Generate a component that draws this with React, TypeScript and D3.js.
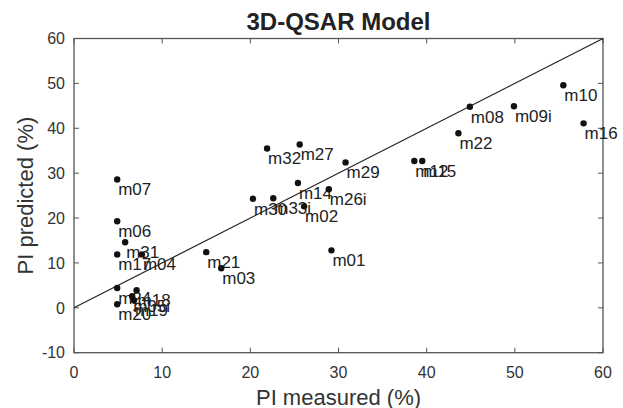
import React from "react";
import * as d3 from "d3";

const labels = ["m07","m06","m31","m17","m04","m21","m03","m24","m18","m05i","m20","m19","m32","m27","m29","m14","m26i","m30","m33i","m02","m01","m08","m09i","m10","m16","m22","m12","m15"];
const measured = [4.9,4.9,5.8,4.9,7.7,15.0,16.7,4.9,7.1,6.6,4.9,6.8,21.9,25.6,30.8,25.4,28.9,20.3,22.6,26.1,29.2,44.9,49.9,55.5,57.8,43.6,38.6,39.5];
const predicted = [28.6,19.3,14.6,11.9,11.9,12.4,8.8,4.4,3.9,2.6,0.8,1.7,35.5,36.4,32.4,27.8,26.4,24.3,24.4,22.6,12.8,44.8,44.9,49.6,41.1,38.9,32.7,32.7];
const xTicks = [0,10,20,30,40,50,60];
const yTicks = [-10,0,10,20,30,40,50,60];
const lineData = [[0,0],[60,60]];

const W = 623, H = 408;
const L = 74, R = 603, T = 38.5, B = 352.7;

export default function App() {
  const x = d3.scaleLinear().domain([0, 60]).range([L, R]);
  const y = d3.scaleLinear().domain([-10, 60]).range([B, T]);
  const line = d3.line<number[]>().x(d => x(d[0])).y(d => y(d[1]));
  const axisColor = "#555";
  const tl = 5;
  return (
    <svg width={W} height={H} style={{ position: "absolute", left: 0, top: 0, background: "#fff" }}
      fontFamily="'Liberation Sans', Arial, Helvetica, sans-serif">
      <rect x={0} y={0} width={W} height={H} fill="#fff" />
      <text x={(L + R) / 2} y={30} textAnchor="middle" fontSize={24} fontWeight="bold" fill="#222">3D-QSAR Model</text>
      {/* box */}
      <rect x={L} y={T} width={R - L} height={B - T} fill="none" stroke={axisColor} strokeWidth={1.3} />
      {xTicks.map(t => (
        <g key={"xt" + t}>
          <line x1={x(t)} x2={x(t)} y1={B} y2={B - tl} stroke={axisColor} />
          <line x1={x(t)} x2={x(t)} y1={T} y2={T + tl} stroke={axisColor} />
          <text x={x(t)} y={B + 25} textAnchor="middle" fontSize={16} fill="#333">{t}</text>
        </g>
      ))}
      {yTicks.map(t => (
        <g key={"yt" + t}>
          <line x1={L} x2={L + tl} y1={y(t)} y2={y(t)} stroke={axisColor} />
          <line x1={R} x2={R - tl} y1={y(t)} y2={y(t)} stroke={axisColor} />
          <text x={L - 9} y={y(t)} dy="0.36em" textAnchor="end" fontSize={16} fill="#333">{t}</text>
        </g>
      ))}
      <text x={(L + R) / 2} y={405} textAnchor="middle" fontSize={22} fill="#333">PI measured (%)</text>
      <text transform={`translate(33,${(T + B) / 2}) rotate(-90)`} textAnchor="middle" fontSize={22} fill="#333">PI predicted (%)</text>
      <path d={line(lineData) || ""} fill="none" stroke="#222" strokeWidth={1.2} />
      {labels.map((lab, i) => (
        <g key={lab}>
          <circle cx={x(measured[i])} cy={y(predicted[i])} r={3.2} fill="#111" />
          <text x={x(measured[i]) + 1} y={y(predicted[i]) + 16} fontSize={17} fill="#222">{lab}</text>
        </g>
      ))}
    </svg>
  );
}
